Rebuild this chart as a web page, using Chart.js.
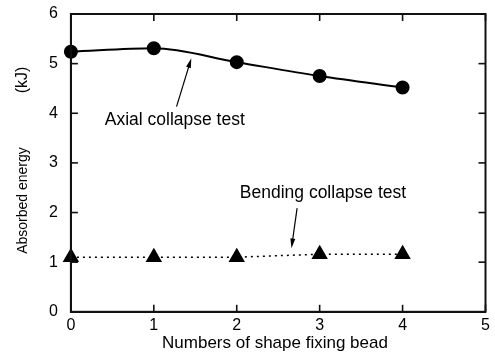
<!DOCTYPE html>
<html>
<head>
<meta charset="utf-8">
<script src="https://cdn.jsdelivr.net/npm/chart.js@4"></script>
<style>
  html, body { margin: 0; padding: 0; background: #fff; }
  #wrap { width: 495px; height: 360px; }
</style>
</head>
<body>
<div id="wrap"><canvas id="chart"></canvas></div>
<script>
// number of shape fixing beads
var beads = [0, 1, 2, 3, 4]
// absorbed energy (kJ)
var axialEnergy = [5.24, 5.31, 5.03, 4.75, 4.52]
var bendingEnergy = [1.10, 1.10, 1.10, 1.16, 1.16]
var xTicks = [0, 1, 2, 3, 4, 5]
var yTicks = [0, 1, 2, 3, 4, 5, 6]

var FONT = '"Liberation Sans", Arial, sans-serif'

function toPoints(xs, ys) {
    return xs.map(function (x, i) { return { x: x, y: ys[i] } })
}

function seg(c, x1, y1, x2, y2) {
    c.beginPath()
    c.moveTo(x1, y1)
    c.lineTo(x2, y2)
    c.stroke()
}

// box, inside ticks, arrows + labels, axis titles
var decor = {
    id: 'decor',
    afterDraw: function (chart) {
        var c = chart.ctx
        var a = chart.chartArea
        var xs = chart.scales.x
        var ys = chart.scales.y
        c.save()
        c.setLineDash([])
        c.strokeStyle = '#111'
        c.lineWidth = 2
        c.strokeRect(a.left, a.top, a.right - a.left, a.bottom - a.top)

        var len = 7
        c.lineWidth = 1.6
        xTicks.forEach(function (v) {
            var px = xs.getPixelForValue(v)
            seg(c, px, a.bottom, px, a.bottom - len)
            seg(c, px, a.top, px, a.top + len)
        })
        yTicks.forEach(function (v) {
            var py = ys.getPixelForValue(v)
            seg(c, a.left, py, a.left + len, py)
            seg(c, a.right, py, a.right - len, py)
        })

        c.strokeStyle = '#000'
        c.lineWidth = 1.2
        function arrow(x1, y1, x2, y2) {
            var p1 = [xs.getPixelForValue(x1), ys.getPixelForValue(y1)]
            var p2 = [xs.getPixelForValue(x2), ys.getPixelForValue(y2)]
            var ang = Math.atan2(p2[1] - p1[1], p2[0] - p1[0])
            seg(c, p1[0], p1[1], p2[0] - 6 * Math.cos(ang), p2[1] - 6 * Math.sin(ang))
            c.fillStyle = '#000'
            c.beginPath()
            c.moveTo(p2[0], p2[1])
            c.lineTo(p2[0] - 10 * Math.cos(ang - 0.25), p2[1] - 10 * Math.sin(ang - 0.25))
            c.lineTo(p2[0] - 10 * Math.cos(ang + 0.25), p2[1] - 10 * Math.sin(ang + 0.25))
            c.closePath()
            c.fill()
        }
        arrow(1.274, 4.133, 1.452, 5.107)
        arrow(2.728, 2.088, 2.660, 1.282)

        c.fillStyle = '#000'
        c.textAlign = 'center'
        c.textBaseline = 'alphabetic'
        c.font = '17.5px ' + FONT
        c.fillText('Axial collapse test', xs.getPixelForValue(1.253), ys.getPixelForValue(3.765))
        c.fillText('Bending collapse test', xs.getPixelForValue(3.04), ys.getPixelForValue(2.295))

        c.font = '17px ' + FONT
        c.fillText('Numbers of shape fixing bead', 275, 348)

        c.translate(27, 0)
        c.rotate(-Math.PI / 2)
        c.font = '14px ' + FONT
        c.fillText('Absorbed energy', -200.5, 0)
        c.font = '16px ' + FONT
        c.fillText('(kJ)', -80, 0)
        c.restore()
    }
}

var ctx = document.getElementById('chart').getContext('2d')
var chart = new Chart(ctx, {
    type: 'line',
    data: {
        datasets: [{
            label: 'Axial collapse test',
            data: toPoints(beads, axialEnergy),
            borderColor: '#000',
            backgroundColor: '#000',
            borderWidth: 2,
            cubicInterpolationMode: 'monotone',
            pointStyle: 'circle',
            pointRadius: 6,
            pointHoverRadius: 6
        }, {
            label: 'Bending collapse test',
            data: toPoints(beads, bendingEnergy),
            borderColor: '#000',
            backgroundColor: '#000',
            borderWidth: 1.5,
            borderDash: [2, 4],
            tension: 0,
            pointStyle: 'triangle',
            pointRadius: 8,
            pointHoverRadius: 8
        }]
    },
    options: {
        responsive: true,
        maintainAspectRatio: false,
        animation: false,
        clip: false,
        layout: { padding: { left: 36, right: 1, top: 14, bottom: 21 } },
        plugins: { legend: { display: false }, tooltip: { enabled: false } },
        scales: {
            x: {
                type: 'linear',
                min: 0, max: 5,
                afterFit: function (s) { s.paddingLeft = 0; s.paddingRight = 0 },
                afterBuildTicks: function (s) { s.ticks = xTicks.map(function (v) { return { value: v } }) },
                grid: { display: false, drawTicks: false },
                border: { display: true, color: '#111', width: 2 },
                ticks: { color: '#000', font: { family: FONT, size: 16 }, padding: 4 }
            },
            y: {
                min: 0, max: 6,
                afterFit: function (s) { s.paddingTop = 0; s.paddingBottom = 0 },
                afterBuildTicks: function (s) { s.ticks = yTicks.map(function (v) { return { value: v } }) },
                grid: { display: false, drawTicks: false },
                border: { display: true, color: '#111', width: 2 },
                ticks: { color: '#000', font: { family: FONT, size: 16 }, padding: 13 }
            }
        }
    },
    plugins: [decor]
})
</script>
</body>
</html>
